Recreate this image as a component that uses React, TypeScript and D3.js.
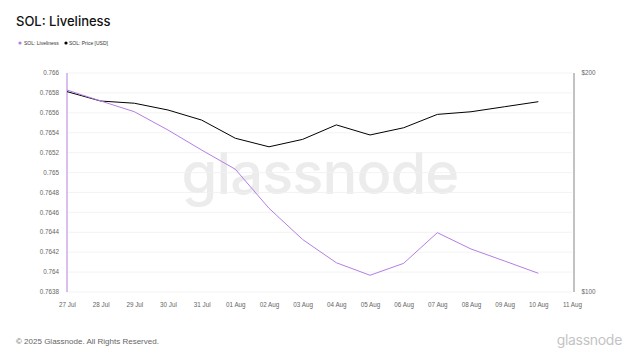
import React from "react";
import * as d3 from "d3";

const dates = [
  "2025-07-27", "2025-07-28", "2025-07-29", "2025-07-30", "2025-07-31",
  "2025-08-01", "2025-08-02", "2025-08-03", "2025-08-04", "2025-08-05",
  "2025-08-06", "2025-08-07", "2025-08-08", "2025-08-09", "2025-08-10",
];
const liveliness = [
  0.765829, 0.765719, 0.765611, 0.765427, 0.765226,
  0.765033, 0.764641, 0.764327, 0.764094, 0.763968,
  0.764088, 0.764396, 0.764232, 0.764111, 0.763988,
];
const price = [
  191.5, 187.2, 186.2, 183.1, 178.5,
  170.2, 166.3, 169.7, 176.3, 171.7,
  175.0, 181.1, 182.3, 184.6, 186.9,
];
const leftTicks = [
  0.7638, 0.764, 0.7642, 0.7644, 0.7646, 0.7648, 0.765,
  0.7652, 0.7654, 0.7656, 0.7658, 0.766,
];
const rightTicks = [100, 200];
const xTickDates = [
  "2025-07-27", "2025-07-28", "2025-07-29", "2025-07-30", "2025-07-31",
  "2025-08-01", "2025-08-02", "2025-08-03", "2025-08-04", "2025-08-05",
  "2025-08-06", "2025-08-07", "2025-08-08", "2025-08-09", "2025-08-10",
  "2025-08-11",
];

const PURPLE = "#b57ee3";
const FONT = "Inter, 'Noto Sans', sans-serif";
const SMALL = "'Liberation Sans', Arial, sans-serif";

export default function App() {
  const W = 640, H = 360;
  const left = 67, right = 572, top = 73, bottom = 292;
  const parse = d3.utcParse("%Y-%m-%d");
  const x = d3.scaleUtc()
    .domain([parse("2025-07-27")!, parse("2025-08-11")!])
    .range([left, right]);
  const yL = d3.scaleLinear().domain([0.7638, 0.766]).range([bottom, top]);
  const yR = d3.scaleLinear().domain([100, 200]).range([bottom, top]);
  const fmtX = d3.utcFormat("%d %b");

  const lineL = d3.line<number>()
    .x((_, i) => x(parse(dates[i])!))
    .y((d) => yL(d));
  const lineR = d3.line<number>()
    .x((_, i) => x(parse(dates[i])!))
    .y((d) => yR(d));

  const fmtL = (v: number) => String(+v.toFixed(4));

  return (
    <svg width={W} height={H} style={{ position: "absolute", left: 0, top: 0, background: "#fff" }} fontFamily={FONT}>
      <rect x={0} y={0} width={W} height={H} fill="#fff" />
      <text x={16} y={26} fontSize={13} fill="#111" fontWeight={500}>SOL: Liveliness</text>
      {/* legend */}
      <circle cx={20} cy={43} r={1.6} fill={PURPLE} />
      <text x={24} y={44.8} fontSize={5} fill="#333" fontFamily={SMALL}>SOL: Liveliness</text>
      <circle cx={66} cy={43} r={1.6} fill="#000" />
      <text x={69} y={44.8} fontSize={5} fill="#333" fontFamily={SMALL}>SOL: Price [USD]</text>

      {/* watermark */}
      <text x={320} y={194} textAnchor="middle" fontSize={58} fill="#ececec" fontWeight={500} letterSpacing={-1}>glassnode</text>

      {/* grid */}
      {leftTicks.map((t) => (
        <line key={"g" + t} x1={left} x2={right} y1={yL(t)} y2={yL(t)} stroke="#f0f0f0" strokeWidth={0.8} />
      ))}

      {/* left axis */}
      <line x1={left} x2={left} y1={top} y2={bottom} stroke={PURPLE} strokeWidth={1} />
      {leftTicks.map((t) => (
        <text key={"l" + t} x={59} y={yL(t) + 2.2} textAnchor="end" fontSize={6.3} fill="#666" fontFamily={SMALL}>{fmtL(t)}</text>
      ))}

      {/* right axis */}
      <line x1={574} x2={574} y1={top} y2={bottom} stroke="#999" strokeWidth={1.2} />
      {rightTicks.map((t) => (
        <text key={"r" + t} x={581.5} y={yR(t) + 2.2} fontSize={6.3} fill="#666" fontFamily={SMALL}>${t}</text>
      ))}

      {/* x axis labels */}
      {xTickDates.map((d) => (
        <text key={d} x={x(parse(d)!) + 0.5} y={306.5} textAnchor="middle" fontSize={6.3} fill="#666" fontFamily={SMALL}>{fmtX(parse(d)!)}</text>
      ))}

      {/* lines */}
      <path d={lineR(price)!} fill="none" stroke="#000" strokeWidth={1} strokeLinejoin="round" />
      <path d={lineL(liveliness)!} fill="none" stroke={PURPLE} strokeWidth={1} strokeLinejoin="round" />

      {/* footer */}
      <text x={16} y={344} fontSize={8} fill="#666" fontFamily={SMALL}>© 2025 Glassnode. All Rights Reserved.</text>
      <text x={622} y={345} textAnchor="end" fontSize={14} fill="#c4c4c4" letterSpacing={-0.3}>glassnode</text>
    </svg>
  );
}
